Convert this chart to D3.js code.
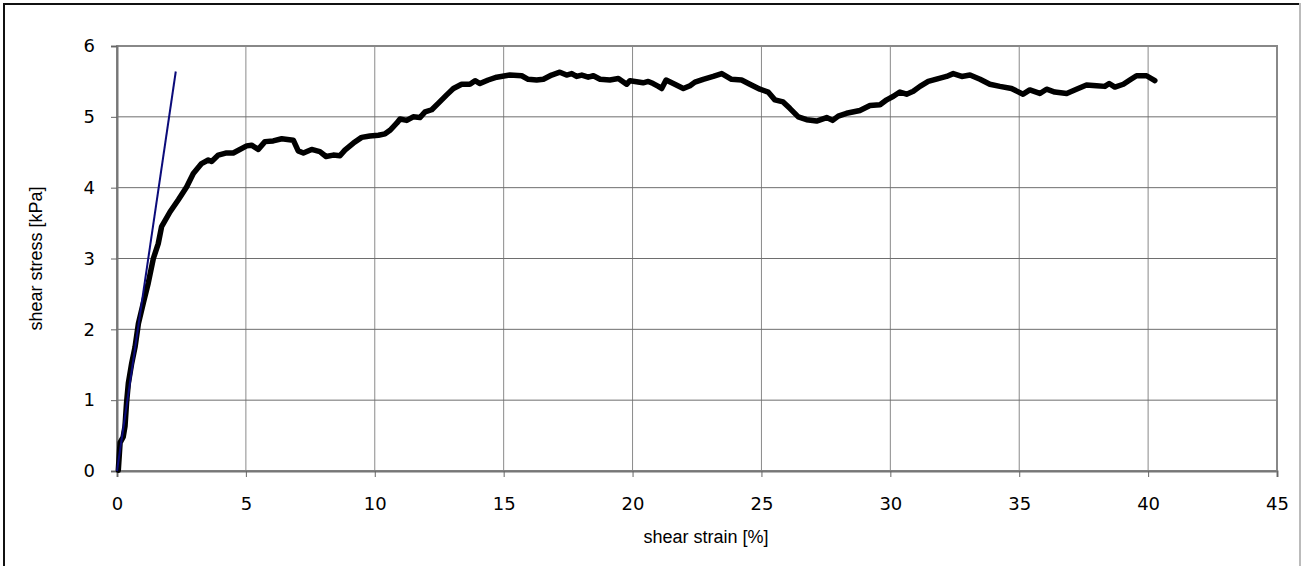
<!DOCTYPE html>
<html>
<head>
<meta charset="utf-8">
<script src="https://cdn.jsdelivr.net/npm/d3@7"></script>
<style>
  body { margin: 0; background: #fff; }
  svg { display: block; font-family: "Liberation Sans", Arial, sans-serif; }
</style>
</head>
<body>
<div id="chart"></div>
<script>
// measured curve: shear strain [%] vs shear stress [kPa]
const strain = [0.05, 0.12, 0.24, 0.31, 0.37, 0.44, 0.57, 0.70, 0.83, 1.02, 1.21, 1.41, 1.60, 1.73, 2.06, 2.38, 2.70,
  2.96, 3.28, 3.54, 3.67, 3.93, 4.25, 4.51, 5.03, 5.22, 5.48, 5.74, 6.06, 6.39, 6.84, 7.03, 7.23, 7.55, 7.87,
  8.11, 8.39, 8.65, 8.84, 9.17, 9.49, 9.81, 10.14, 10.40, 10.59, 10.85, 10.98, 11.24, 11.49, 11.75, 11.95, 12.21,
  12.46, 12.79, 13.05, 13.37, 13.69, 13.89, 14.08, 14.40, 14.73, 15.24, 15.70, 15.95, 16.28, 16.54, 16.86, 17.18,
  17.44, 17.64, 17.83, 18.03, 18.28, 18.48, 18.74, 19.12, 19.45, 19.77, 19.90, 20.09, 20.41, 20.61, 20.80, 21.00,
  21.13, 21.30, 21.58, 21.97, 22.23, 22.42, 22.74, 23.13, 23.46, 23.84, 24.23, 24.55, 24.94, 25.26, 25.52, 25.84,
  26.10, 26.43, 26.75, 27.14, 27.53, 27.76, 27.98, 28.30, 28.82, 29.21, 29.60, 29.86, 30.12, 30.37, 30.63, 30.89,
  31.15, 31.47, 31.86, 32.18, 32.44, 32.77, 33.09, 33.48, 33.86, 34.25, 34.70, 35.15, 35.41, 35.80, 36.06, 36.38,
  36.84, 37.22, 37.61, 38.00, 38.32, 38.49, 38.71, 39.04, 39.29, 39.55, 39.94, 40.26];
const stress = [0.01, 0.40, 0.48, 0.63, 0.96, 1.24, 1.52, 1.75, 2.08, 2.37, 2.65, 3.00, 3.21, 3.45, 3.66, 3.83, 4.01,
  4.20, 4.34, 4.39, 4.37, 4.46, 4.49, 4.49, 4.59, 4.60, 4.54, 4.65, 4.66, 4.69, 4.67, 4.52, 4.49, 4.54, 4.51,
  4.44, 4.46, 4.45, 4.53, 4.63, 4.71, 4.73, 4.74, 4.76, 4.81, 4.91, 4.97, 4.95, 5.00, 4.99, 5.07, 5.10,
  5.19, 5.31, 5.40, 5.46, 5.46, 5.51, 5.47, 5.52, 5.56, 5.59, 5.58, 5.53, 5.52, 5.53, 5.59, 5.63,
  5.59, 5.61, 5.57, 5.59, 5.56, 5.58, 5.53, 5.52, 5.54, 5.46, 5.51, 5.50, 5.48, 5.50, 5.47, 5.43,
  5.40, 5.52, 5.47, 5.40, 5.44, 5.49, 5.53, 5.57, 5.61, 5.53, 5.52, 5.46, 5.39, 5.35, 5.24, 5.21,
  5.12, 5.00, 4.96, 4.94, 4.99, 4.95, 5.01, 5.05, 5.09, 5.16, 5.17, 5.24, 5.29, 5.35, 5.32, 5.36,
  5.43, 5.50, 5.54, 5.57, 5.61, 5.57, 5.59, 5.53, 5.46, 5.43, 5.40, 5.32, 5.38, 5.33, 5.39, 5.35,
  5.33, 5.39, 5.45, 5.44, 5.43, 5.47, 5.42, 5.46, 5.52, 5.58, 5.58, 5.51];

// initial tangent (shear modulus line)
const tangentStrain = [0, 2.28];
const tangentStress = [0, 5.64];

const xTicks = [0, 5, 10, 15, 20, 25, 30, 35, 40, 45];
const yTicks = [0, 1, 2, 3, 4, 5, 6];

const W = 1303, H = 566;
const margin = { top: 46, right: 26, bottom: 95, left: 117 };
const width = W - margin.left - margin.right;
const height = H - margin.top - margin.bottom;

const svg = d3.select("#chart").append("svg")
  .attr("width", W)
  .attr("height", H);

// outer frame (bottom edge is cut off in the picture)
svg.append("line")
  .attr("x1", 4).attr("x2", 1300).attr("y1", 4).attr("y2", 4)
  .attr("stroke", "#111").attr("stroke-width", 2);
svg.append("line")
  .attr("x1", 4).attr("x2", 4).attr("y1", 3).attr("y2", H)
  .attr("stroke", "#111").attr("stroke-width", 2);
svg.append("line")
  .attr("x1", 1300).attr("x2", 1300).attr("y1", 3).attr("y2", H)
  .attr("stroke", "#bbb").attr("stroke-width", 2);

const g = svg.append("g")
  .attr("transform", "translate(" + margin.left + "," + margin.top + ")");

const x = d3.scaleLinear().domain([0, 45]).range([0, width]);
const y = d3.scaleLinear().domain([0, 6]).range([height, 0]);

// grid
g.append("g")
  .selectAll("line")
  .data(xTicks.slice(1, -1))
  .enter().append("line")
  .attr("x1", d => x(d)).attr("x2", d => x(d))
  .attr("y1", 0).attr("y2", height)
  .attr("stroke", "#8a8a8a").attr("stroke-width", 1);

g.append("g")
  .selectAll("line")
  .data(yTicks.slice(1, -1))
  .enter().append("line")
  .attr("x1", 0).attr("x2", width)
  .attr("y1", d => y(d)).attr("y2", d => y(d))
  .attr("stroke", "#6e6e6e").attr("stroke-width", 1);

// plot frame
g.append("rect")
  .attr("x", 0).attr("y", 0)
  .attr("width", width).attr("height", height)
  .attr("fill", "none")
  .attr("stroke", "#888")
  .attr("stroke-width", 2);

// axes
const xAxis = g.append("g")
  .attr("transform", "translate(0," + height + ")")
  .call(d3.axisBottom(x).tickValues(xTicks).tickFormat(d3.format("d")).tickSize(6).tickPadding(20));
const yAxis = g.append("g")
  .call(d3.axisLeft(y).tickValues(yTicks).tickFormat(d3.format("d")).tickSize(6).tickPadding(16));

[xAxis, yAxis].forEach(a => {
  a.select(".domain").attr("stroke", "#777").attr("stroke-width", 2);
  a.selectAll(".tick line").attr("stroke", "#666").attr("stroke-width", 1);
  a.selectAll(".tick text")
    .attr("fill", "#000")
    .style("font-size", "18px")
    .style("font-family", "'DejaVu Sans', sans-serif");
});

// measured curve
const line = d3.line()
  .x((d, i) => x(strain[i]))
  .y((d, i) => y(stress[i]));

g.append("path")
  .datum(strain)
  .attr("d", line)
  .attr("fill", "none")
  .attr("stroke", "#000")
  .attr("stroke-width", 5.5)
  .attr("stroke-linejoin", "round")
  .attr("stroke-linecap", "round");

// tangent line
const tline = d3.line()
  .x((d, i) => x(tangentStrain[i]))
  .y((d, i) => y(tangentStress[i]));

g.append("path")
  .datum(tangentStrain)
  .attr("d", tline)
  .attr("fill", "none")
  .attr("stroke", "#0b0b7a")
  .attr("stroke-width", 2);

// axis titles
svg.append("text")
  .attr("x", margin.left + width / 2 + 9)
  .attr("y", 543)
  .attr("text-anchor", "middle")
  .style("font-size", "18px")
  .attr("fill", "#000")
  .text("shear strain [%]");

svg.append("text")
  .attr("transform", "translate(42," + (margin.top + height / 2) + ") rotate(-90)")
  .attr("text-anchor", "middle")
  .style("font-size", "18px")
  .attr("fill", "#000")
  .text("shear stress [kPa]");
</script>
</body>
</html>
